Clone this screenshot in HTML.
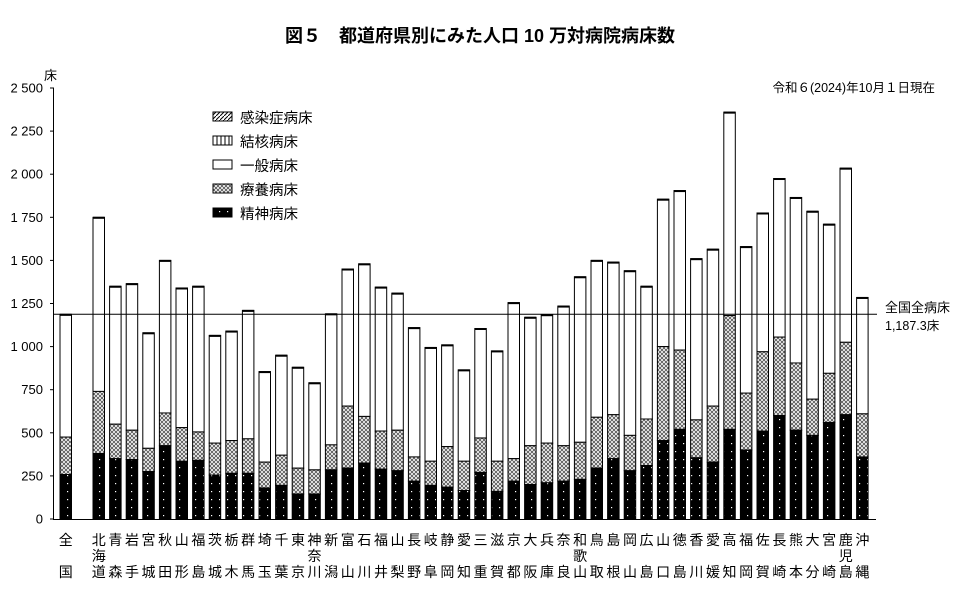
<!DOCTYPE html>
<html><head><meta charset="utf-8">
<style>
body{margin:0;background:#fff;}
svg{display:block;font-family:"Liberation Sans","Noto Sans CJK JP",sans-serif;}
</style></head><body>
<svg id="c" width="960" height="600" viewBox="0 0 960 600" xmlns="http://www.w3.org/2000/svg">
<defs>
<pattern id="blk" width="8" height="8" patternUnits="userSpaceOnUse">
<rect width="8" height="8" fill="#000"/><rect x="3" y="3" width="1.2" height="1.2" fill="#fff"/>
</pattern>
<pattern id="xh" width="4" height="4" patternUnits="userSpaceOnUse">
<rect width="4" height="4" fill="#fff"/><path d="M0 0L4 4M4 0L0 4" stroke="#555" stroke-width="0.9"/>
</pattern>
<pattern id="dg" width="4" height="4" patternUnits="userSpaceOnUse">
<rect width="4" height="4" fill="#fff"/><path d="M0 4L4 0" stroke="#000" stroke-width="1"/>
</pattern>
<pattern id="vl" width="4" height="4" patternUnits="userSpaceOnUse">
<rect width="4" height="4" fill="#fff"/><path d="M1 0V4" stroke="#000" stroke-width="1"/>
</pattern>
</defs>
<text x="480" y="42" text-anchor="middle" font-size="18" font-weight="bold">図５　都道府県別にみた人口 10 万対病院病床数</text>
<text x="935" y="92" text-anchor="end" font-size="12.5">令和６(2024)年10月１日現在</text>
<text x="44" y="80" font-size="13">床</text>
<g id="g"></g>
<g font-size="14.5">
<rect x="213" y="112" width="19" height="9" fill="url(#dg)" stroke="#000"/><text x="240" y="123">感染症病床</text>
<rect x="213" y="136" width="19" height="9" fill="url(#vl)" stroke="#000"/><text x="240" y="147">結核病床</text>
<rect x="213" y="160" width="19" height="9" fill="#fff" stroke="#000"/><text x="240" y="171">一般病床</text>
<rect x="213" y="184" width="19" height="9" fill="url(#xh)" stroke="#000"/><text x="240" y="195">療養病床</text>
<rect x="213" y="208" width="19" height="9" fill="url(#blk)" stroke="#000"/><text x="240" y="219">精神病床</text>
</g>
<text x="885" y="312" font-size="13">全国全病床</text>
<text x="885" y="330" font-size="12.5">1,187.3床</text>
</svg>
<script>
var g=document.getElementById('g');var s='';
function Y(v){return 519-v*0.1724;}
var ticks=["0","250","500","750","1 000","1 250","1 500","1 750","2 000","2 250","2 500"];
for(var i=0;i<=10;i++){var y=Y(i*250);s+='<line x1="50" x2="54" y1="'+y+'" y2="'+y+'" stroke="#000"/>';s+='<text x="43" y="'+(y+4.5)+'" text-anchor="end" font-size="13">'+ticks[i]+'</text>';}
var d=[["全,,国",1187,258,475],["北,海,道",1750,380,740],["青,,森",1350,350,550],["岩,,手",1365,345,515],["宮,,城",1080,275,410],["秋,,田",1500,425,615],["山,,形",1340,335,530],["福,,島",1350,340,505],["茨,,城",1065,255,440],["栃,,木",1090,265,455],["群,,馬",1210,265,465],["埼,,玉",855,180,330],["千,,葉",950,195,370],["東,,京",880,145,295],["神,奈,川",790,145,285],["新,,潟",1190,285,430],["富,,山",1450,295,655],["石,,川",1480,325,595],["福,,井",1345,290,510],["山,,梨",1310,280,515],["長,,野",1110,220,360],["岐,,阜",995,195,335],["静,,岡",1010,185,420],["愛,,知",865,165,335],["三,,重",1105,270,470],["滋,,賀",975,160,335],["京,,都",1255,220,350],["大,,阪",1170,200,425],["兵,,庫",1185,210,440],["奈,,良",1235,220,425],["和,歌,山",1405,230,445],["鳥,,取",1500,295,590],["島,,根",1490,350,605],["岡,,山",1440,280,485],["広,,島",1350,310,580],["山,,口",1855,455,1000],["徳,,島",1905,520,980],["香,,川",1510,355,575],["愛,,媛",1565,330,655],["高,,知",2360,520,1180],["福,,岡",1580,400,730],["佐,,賀",1775,510,970],["長,,崎",1975,600,1055],["熊,,本",1865,515,905],["大,,分",1785,485,695],["宮,,崎",1710,560,845],["鹿,児,島",2035,605,1025],["沖,,縄",1285,360,610]];
for(var k=0;k<d.length;k++){var x=k==0?60:93+(k-1)*16.6;var w=11.5;var r=d[k];
var yt=Y(r[1]),yr=Y(r[3]),ym=Y(r[2]);
s+='<rect x="'+x+'" y="'+yt+'" width="'+w+'" height="'+(yr-yt)+'" fill="#fff" stroke="#000" stroke-width="1"/>';
s+='<rect x="'+x+'" y="'+yr+'" width="'+w+'" height="'+(ym-yr)+'" fill="url(#xh)" stroke="#000" stroke-width="1"/>';
s+='<rect x="'+x+'" y="'+ym+'" width="'+w+'" height="'+(519-ym)+'" fill="url(#blk)" stroke="#000" stroke-width="1"/>';
s+='<rect x="'+x+'" y="'+(yt-0.5)+'" width="'+w+'" height="2" fill="#000"/>';
var L=r[0].split(',');var cx=x+w/2;
s+='<text x="'+cx+'" y="545" text-anchor="middle" font-size="14">'+L[0]+'</text>';
if(L[1])s+='<text x="'+cx+'" y="561" text-anchor="middle" font-size="14">'+L[1]+'</text>';
s+='<text x="'+cx+'" y="577" text-anchor="middle" font-size="14">'+L[2]+'</text>';}
s+='<line x1="53.5" x2="53.5" y1="88" y2="519" stroke="#000"/>';
s+='<line x1="53" x2="876" y1="519.5" y2="519.5" stroke="#000"/>';
s+='<line x1="53" x2="877" y1="'+Y(1187.3)+'" y2="'+Y(1187.3)+'" stroke="#000"/>';
g.innerHTML=s;
</script>
</body></html>
